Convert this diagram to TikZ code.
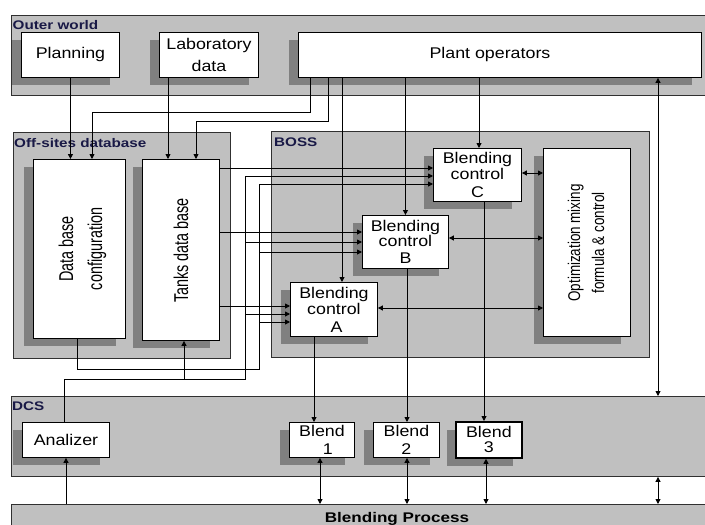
\documentclass[tikz,border=0pt]{standalone}
\usepackage{fontspec}
\setmainfont{Liberation Sans}
\newfontfamily\wf[FakeStretch=1.15]{Liberation Sans}
\newfontfamily\rf[FakeStretch=0.72]{Liberation Sans}
\newfontfamily\rfo[FakeStretch=0.79]{Liberation Sans}
\newfontfamily\lblf[FakeStretch=1.22]{Liberation Sans}
\usetikzlibrary{arrows.meta,shadows,calc}
\definecolor{pan}{HTML}{C0C0C0}
\definecolor{shd}{HTML}{808080}
\definecolor{lbl}{RGB}{25,25,70}
\definecolor{pborder}{HTML}{303030}
\tikzset{
  panel/.style={draw=pborder, fill=pan, line width=0.9pt, anchor=north west, inner sep=0pt},
  box/.style={draw=black, fill=white, line width=0.9pt, inner sep=0pt, align=center, anchor=north west,
    font={\wf\fontsize{15.5pt}{16pt}\selectfont},
    general shadow={fill=shd, shadow xshift=-9pt, shadow yshift=-8pt}},
  rtext/.style={align=center, inner sep=0pt, rotate=90},
  plabel/.style={anchor=base west, inner sep=0pt, text=lbl, font={\lblf\bfseries\fontsize{12.5pt}{13pt}\selectfont}},
  ln/.style={line width=0.9pt, draw=black},
  arr/.style={ln, -{Triangle[length=5pt,width=5pt]}},
  darr/.style={ln, {Triangle[length=5pt,width=5pt]}-{Triangle[length=5pt,width=5pt]}}
}
\begin{document}
\begin{tikzpicture}[x=1pt,y=-1pt]
\useasboundingbox (0,0) rectangle (705,525);
% panels
\node[panel, minimum width=700pt, minimum height=80pt] (outer) at (11,15) {};
\node[panel, minimum width=217pt, minimum height=226pt] (offs) at (13,132) {};
\node[panel, minimum width=378pt, minimum height=226pt] (boss) at (271,131) {};
\node[panel, minimum width=700pt, minimum height=80pt] (dcs) at (11,396) {};
\node[panel, minimum width=700pt, minimum height=30pt] (proc) at (11,504) {};
% panel labels
\node[plabel] (outert) at (12.5,29) {Outer world};
\node[plabel] (offst) at (14,147) {Off-sites database};
\node[plabel] (bosst) at (274,146) {BOSS};
\node[plabel] (dcst) at (12,410) {DCS};
\node[plabel, text=black, anchor=base, font={\lblf\bfseries\fontsize{14pt}{14pt}\selectfont}] (proct) at (397,522) {Blending Process};
% boxes
\node[box, minimum width=98pt, minimum height=45pt] (plan) at (21,32) {Planning};
\node[box, minimum width=99pt, minimum height=45pt, font={\wf\fontsize{15.5pt}{22pt}\selectfont}] (lab) at (159,32) {Laboratory\\data};
\node[box, minimum width=403pt, minimum height=45pt] (plant) at (298,32) {\hspace*{-20pt}Plant operators};
\node[box, minimum width=92pt, minimum height=179pt] (dbc) at (33,159) {};
\node[box, minimum width=77pt, minimum height=181pt] (tdb) at (142,159) {};
\node[box, minimum width=88pt, minimum height=53pt] (bcC) at (433,148) {Blending\\control\\[2pt]C};
\node[box, minimum width=86pt, minimum height=53pt] (bcB) at (362,215) {Blending\\[-1pt]control\\[1pt]B};
\node[box, minimum width=87pt, minimum height=54pt] (bcA) at (290,282) {Blending\\control\\[2pt]\hspace*{5pt}A};
\node[box, minimum width=87pt, minimum height=188pt] (opt) at (543,148) {};
\node[box, minimum width=65pt, minimum height=35pt] (bl1) at (289,422) {Blend\\[2pt]\hspace*{12pt}1};
\node[box, minimum width=66pt, minimum height=35pt] (bl2) at (373,422) {Blend\\[2pt]2};
\node[box, minimum width=66pt, minimum height=36pt, line width=1.8pt] (bl3) at (455,421) {Blend\\[-1pt]3};
\node[box, minimum width=87pt, minimum height=35pt] (ana) at (22,422) {Analizer};
% rotated texts
\node[rtext, font={\rf\fontsize{20pt}{29pt}\selectfont}] (dbct) at ($(dbc.center)+(3,0)$) {Data base\\configuration};
\node[rtext, font={\rf\fontsize{20pt}{20pt}\selectfont}] (tdbt) at ($(tdb.center)+(0,0.5)$) {Tanks data base};
\node[rtext, font={\rfo\fontsize{17pt}{24pt}\selectfont}] (optt) at ($(opt.center)+(-1,0.5)$) {Optimization mixing\\formula \& control};
% routing coordinates
\coordinate (xL) at (168,0);
\coordinate (p1) at (310,112); \coordinate (p1b) at (92,112);
\coordinate (p2) at (328,121); \coordinate (p2b) at (196,121);
\coordinate (xA) at (342,0);
\coordinate (xC) at (479,0);
\coordinate (xR) at (658,0);
\coordinate (y1) at (0,168); \coordinate (y2) at (0,232); \coordinate (y3) at (0,306);
\coordinate (a1) at (64,379); \coordinate (a2) at (245,379); \coordinate (a3) at (245,176);
\coordinate (a4) at (184,379); \coordinate (a5) at (245,242); \coordinate (a6) at (245,314);
\coordinate (d1) at (77,369); \coordinate (d2) at (259,369); \coordinate (d3) at (259,184);
\coordinate (d4) at (259,252); \coordinate (d5) at (259,322);
\coordinate (o1) at (0,173); \coordinate (o2) at (0,238); \coordinate (o3) at (0,308);
\coordinate (b1) at (314,0); \coordinate (b2) at (407,0); \coordinate (b3) at (484,0);
\coordinate (q0) at (66,0); \coordinate (q1) at (320,0); \coordinate (q2) at (407,0); \coordinate (q3) at (486,0);
% connectors from outer world
\draw[arr] (plan.south) -- (plan.south |- dbc.north);
\draw[arr] (lab.south -| xL) -- (tdb.north -| xL);
\draw[arr] (plant.south -| p1) -- (p1) -- (p1b) -- (p1b |- dbc.north);
\draw[arr] (plant.south -| p2) -- (p2) -- (p2b) -- (p2b |- tdb.north);
\draw[arr] (plant.south -| xA) -- (bcA.north -| xA);
\draw[arr] (plant.south -| bcB.north) -- (bcB.north);
\draw[arr] (plant.south -| xC) -- (bcC.north -| xC);
\draw[darr] (plant.south -| xR) -- (dcs.north -| xR);
% tanks to blending controls
\draw[arr] (tdb.east |- y1) -- (bcC.west |- y1);
\draw[arr] (tdb.east |- y2) -- (bcB.west |- y2);
\draw[arr] (tdb.east |- y3) -- (bcA.west |- y3);
% analizer route
\draw[arr] (ana.north -| a1) -- (a1) -- (a2) -- (a3) -- (bcC.west |- a3);
\draw[arr] (a4) -- (tdb.south -| a4);
\draw[arr] (a5) -- (bcB.west |- a5);
\draw[arr] (a6) -- (bcA.west |- a6);
% data base configuration route
\draw[arr] (dbc.south -| d1) -- (d1) -- (d2) -- (d3) -- (bcC.west |- d3);
\draw[arr] (d4) -- (bcB.west |- d4);
\draw[arr] (d5) -- (bcA.west |- d5);
% optimization links
\draw[darr] (bcC.east |- o1) -- (opt.west |- o1);
\draw[darr] (bcB.east |- o2) -- (opt.west |- o2);
\draw[darr] (bcA.east |- o3) -- (opt.west |- o3);
% to blends
\draw[arr] (bcA.south -| b1) -- (bl1.north -| b1);
\draw[arr] (bcB.south -| b2) -- (bl2.north -| b2);
\draw[arr] (bcC.south -| b3) -- (bl3.north -| b3);
% blends to process
\draw[darr] (bl1.south -| q1) -- (proc.north -| q1);
\draw[darr] (bl2.south -| q2) -- (proc.north -| q2);
\draw[darr] (bl3.south -| q3) -- (proc.north -| q3);
\draw[arr] (proc.north -| q0) -- (ana.south -| q0);
\draw[darr] (dcs.south -| xR) -- (proc.north -| xR);
\end{tikzpicture}
\end{document}
